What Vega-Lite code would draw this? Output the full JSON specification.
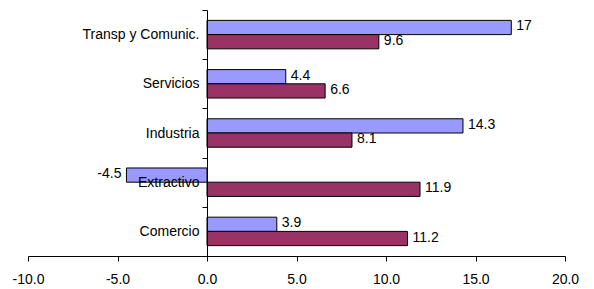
{
  "$schema": "https://vega.github.io/schema/vega-lite/v6.json",
  "width": 537,
  "height": 246,
  "autosize": {"type": "none"},
  "padding": {"left": 28, "top": 10, "right": 29, "bottom": 33},
  "background": "white",
  "config": {
    "locale": {"number": {"decimal": ".", "thousands": ",", "grouping": [3], "currency": ["$", ""], "minus": "-"}},
    "view": {"stroke": null},
    "font": "Liberation Sans",
    "axis": {"labelFont": "Liberation Sans", "labelColor": "#000", "domainColor": "#000", "tickColor": "#000", "grid": false}
  },
  "data": {
    "values": [
      {"cat": "Transp y Comunic.", "serie": "A", "v": 17},
      {"cat": "Transp y Comunic.", "serie": "B", "v": 9.6},
      {"cat": "Servicios", "serie": "A", "v": 4.4},
      {"cat": "Servicios", "serie": "B", "v": 6.6},
      {"cat": "Industria", "serie": "A", "v": 14.3},
      {"cat": "Industria", "serie": "B", "v": 8.1},
      {"cat": "Extractivo", "serie": "A", "v": -4.5},
      {"cat": "Extractivo", "serie": "B", "v": 11.9},
      {"cat": "Comercio", "serie": "A", "v": 3.9},
      {"cat": "Comercio", "serie": "B", "v": 11.2}
    ]
  },
  "encoding": {
    "y": {
      "field": "cat", "type": "nominal",
      "sort": ["Transp y Comunic.", "Servicios", "Industria", "Extractivo", "Comercio"],
      "scale": {"paddingInner": 0, "paddingOuter": 0},
      "axis": {"title": null, "offset": -179, "tickBand": "extent", "tickSize": 5, "labelPadding": 3, "labelFontSize": 14, "zindex": 1, "domainWidth": 1}
    },
    "yOffset": {"field": "serie", "type": "nominal", "sort": ["A", "B"], "scale": {"paddingInner": 0, "paddingOuter": 0.73}},
    "x": {
      "field": "v", "type": "quantitative",
      "scale": {"domain": [-10, 20], "nice": false, "zero": false},
      "axis": {"title": null, "values": [-10, -5, 0, 5, 10, 15, 20], "format": ".1f", "tickSize": 5, "labelPadding": 11, "labelFontSize": 14, "labelFlush": false}
    }
  },
  "layer": [
    {
      "mark": {"type": "bar", "stroke": "#000", "strokeWidth": 1},
      "encoding": {
        "color": {"field": "serie", "type": "nominal", "scale": {"domain": ["A", "B"], "range": ["#9999FF", "#993366"]}, "legend": null}
      }
    },
    {
      "transform": [{"filter": "datum.v >= 0"}],
      "mark": {"type": "text", "align": "left", "baseline": "middle", "dx": 5, "dy": -1, "fontSize": 14, "color": "#000"},
      "encoding": {"text": {"field": "v", "type": "quantitative"}}
    },
    {
      "transform": [{"filter": "datum.v < 0"}],
      "mark": {"type": "text", "align": "right", "baseline": "middle", "dx": -5, "dy": -1, "fontSize": 14, "color": "#000"},
      "encoding": {"text": {"field": "v", "type": "quantitative"}}
    }
  ]
}
